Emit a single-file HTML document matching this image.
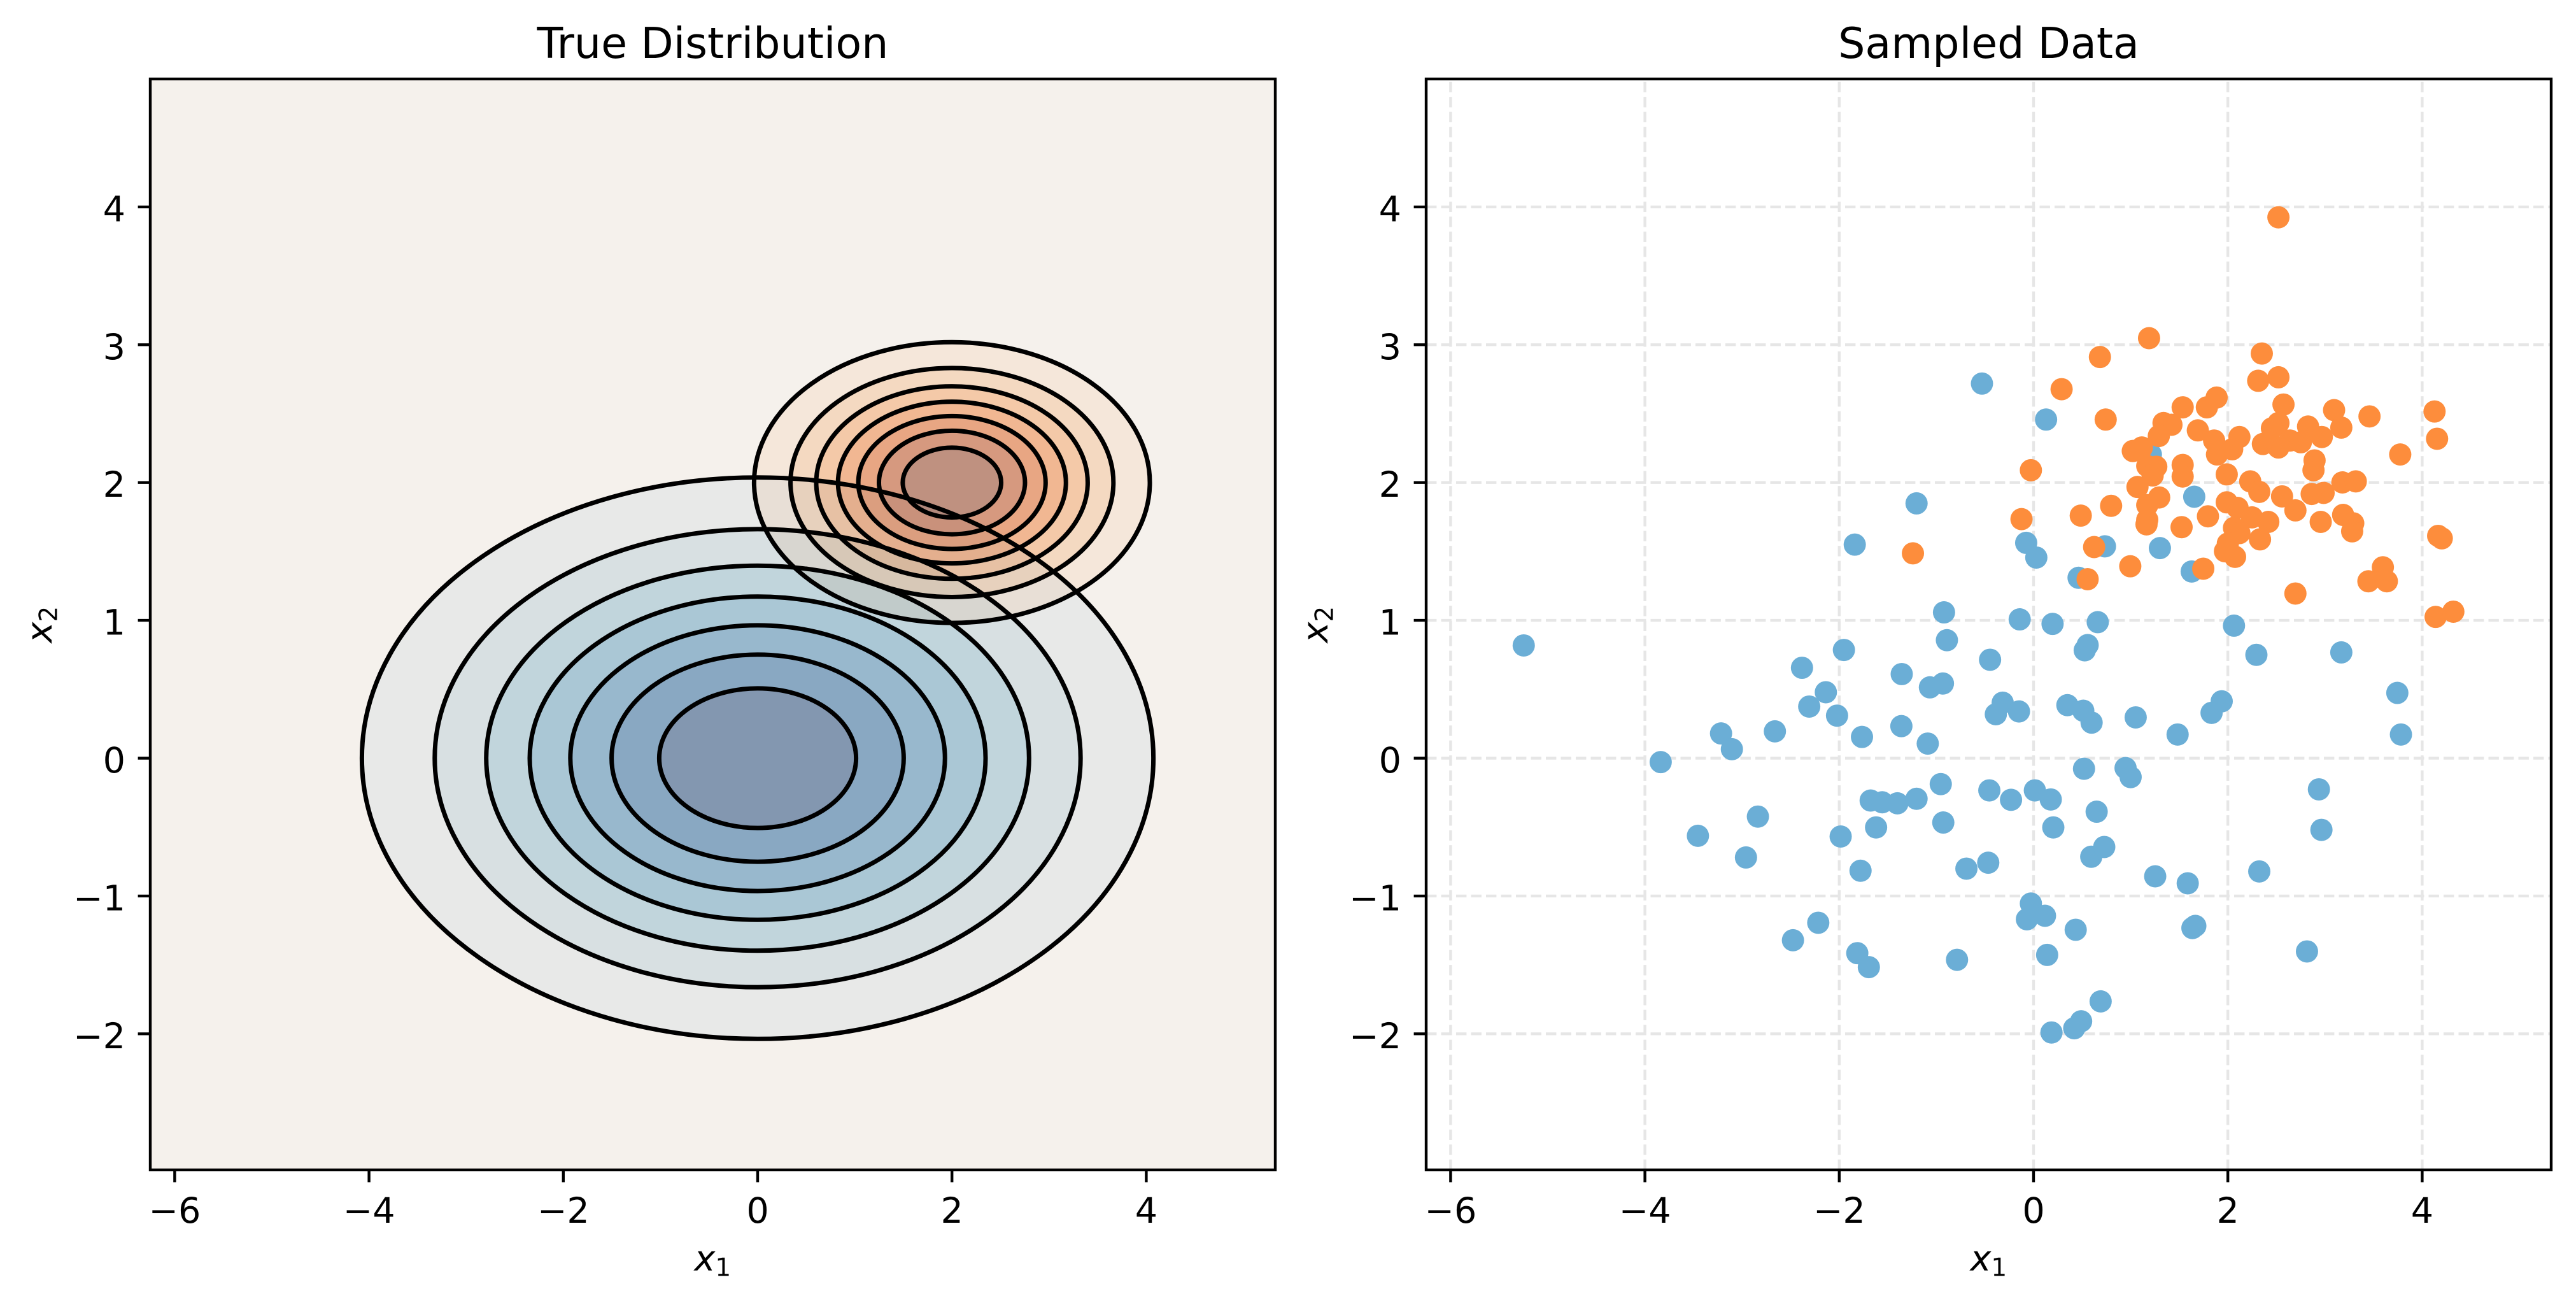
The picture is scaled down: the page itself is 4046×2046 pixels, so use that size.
<!DOCTYPE html>
<html><head><meta charset="utf-8"><style>
html,body{margin:0;padding:0;background:#fff;}
svg{display:block;}
text{font-family:"DejaVu Sans","Liberation Sans",sans-serif;fill:#000;}
</style></head><body>
<svg xmlns="http://www.w3.org/2000/svg" xmlns:xlink="http://www.w3.org/1999/xlink" width="4046" height="2046" viewBox="0 0 4046 2046">
<defs>
<clipPath id="c1"><rect x="236" y="124" width="1767" height="1713"/></clipPath>
<clipPath id="c2"><rect x="2240" y="124" width="1767" height="1713"/></clipPath>
<ellipse id="p" cx="0" cy="0" rx="30.8" ry="31.9"/>
</defs>
<rect width="4046" height="2046" fill="#fff"/>

<g clip-path="url(#c1)">
<rect x="236" y="124" width="1767" height="1713" fill="#feeedc"/>
<ellipse cx="1495.2" cy="757.7" rx="310.8" ry="220.4" fill="#fedbb8"/>
<ellipse cx="1495.2" cy="757.7" rx="253.6" ry="179.8" fill="#fdbf86"/>
<ellipse cx="1495.2" cy="757.7" rx="213.2" ry="151.1" fill="#fd9e54"/>
<ellipse cx="1495.2" cy="757.7" rx="179.0" ry="126.9" fill="#f77b28"/>
<ellipse cx="1495.2" cy="757.7" rx="147.1" ry="104.3" fill="#e5590a"/>
<ellipse cx="1495.2" cy="757.7" rx="114.7" ry="81.3" fill="#c03f02"/>
<ellipse cx="1495.2" cy="757.7" rx="77.3" ry="54.8" fill="#932f04"/>
<g fill-rule="evenodd" fill-opacity="0.5">
<path fill="#ebf3fb" d="M236 124H2003V1837H236Z M568.4 1190.5a621.6 440.8 0 1 0 1243.2 0a621.6 440.8 0 1 0 -1243.2 0Z"/>
<path fill="#d2e3f3" d="M568.4 1190.5a621.6 440.8 0 1 0 1243.2 0a621.6 440.8 0 1 0 -1243.2 0Z M682.8 1190.5a507.2 359.6 0 1 0 1014.4 0a507.2 359.6 0 1 0 -1014.4 0Z"/>
<path fill="#b2d2e8" d="M682.8 1190.5a507.2 359.6 0 1 0 1014.4 0a507.2 359.6 0 1 0 -1014.4 0Z M763.7 1190.5a426.3 302.3 0 1 0 852.6 0a426.3 302.3 0 1 0 -852.6 0Z"/>
<path fill="#84bcdb" d="M763.7 1190.5a426.3 302.3 0 1 0 852.6 0a426.3 302.3 0 1 0 -852.6 0Z M832 1190.5a358 253.8 0 1 0 716 0a358 253.8 0 1 0 -716 0Z"/>
<path fill="#56a0ce" d="M832 1190.5a358 253.8 0 1 0 716 0a358 253.8 0 1 0 -716 0Z M895.8 1190.5a294.2 208.6 0 1 0 588.4 0a294.2 208.6 0 1 0 -588.4 0Z"/>
<path fill="#3181bd" d="M895.8 1190.5a294.2 208.6 0 1 0 588.4 0a294.2 208.6 0 1 0 -588.4 0Z M960.6 1190.5a229.4 162.6 0 1 0 458.8 0a229.4 162.6 0 1 0 -458.8 0Z"/>
<path fill="#1461a8" d="M960.6 1190.5a229.4 162.6 0 1 0 458.8 0a229.4 162.6 0 1 0 -458.8 0Z M1035.4 1190.5a154.6 109.6 0 1 0 309.2 0a154.6 109.6 0 1 0 -309.2 0Z"/>
<path fill="#084083" d="M1035.4 1190.5a154.6 109.6 0 1 0 309.2 0a154.6 109.6 0 1 0 -309.2 0Z"/>
</g>
<g fill="none" stroke="#000" stroke-width="7">
<ellipse cx="1190" cy="1190.5" rx="621.6" ry="440.8"/>
<ellipse cx="1190" cy="1190.5" rx="507.2" ry="359.6"/>
<ellipse cx="1190" cy="1190.5" rx="426.3" ry="302.3"/>
<ellipse cx="1190" cy="1190.5" rx="358.0" ry="253.8"/>
<ellipse cx="1190" cy="1190.5" rx="294.2" ry="208.6"/>
<ellipse cx="1190" cy="1190.5" rx="229.4" ry="162.6"/>
<ellipse cx="1190" cy="1190.5" rx="154.6" ry="109.6"/>
<ellipse cx="1495.2" cy="757.7" rx="310.8" ry="220.4"/>
<ellipse cx="1495.2" cy="757.7" rx="253.6" ry="179.8"/>
<ellipse cx="1495.2" cy="757.7" rx="213.2" ry="151.1"/>
<ellipse cx="1495.2" cy="757.7" rx="179.0" ry="126.9"/>
<ellipse cx="1495.2" cy="757.7" rx="147.1" ry="104.3"/>
<ellipse cx="1495.2" cy="757.7" rx="114.7" ry="81.3"/>
<ellipse cx="1495.2" cy="757.7" rx="77.3" ry="54.8"/>
</g>
</g>
<rect x="236" y="124" width="1767" height="1713" fill="none" stroke="#000" stroke-width="4.4"/>
<path stroke="#000" stroke-width="4.4" fill="none" d="M274.4 1837v19.4M579.6 1837v19.4M884.8 1837v19.4M1190 1837v19.4M1495.2 1837v19.4M1800.4 1837v19.4M216.6 324.9h19.4M216.6 541.3h19.4M216.6 757.7h19.4M216.6 974.1h19.4M216.6 1190.5h19.4M216.6 1406.9h19.4M216.6 1623.3h19.4"/>
<g font-size="55.6" text-anchor="middle">
<text x="274.4" y="1920">−6</text>
<text x="579.6" y="1920">−4</text>
<text x="884.8" y="1920">−2</text>
<text x="1190" y="1920">0</text>
<text x="1495.2" y="1920">2</text>
<text x="1800.4" y="1920">4</text>
</g>
<g font-size="55.6" text-anchor="end">
<text x="197" y="347.4">4</text>
<text x="197" y="563.8">3</text>
<text x="197" y="780.2">2</text>
<text x="197" y="996.6">1</text>
<text x="197" y="1213">0</text>
<text x="197" y="1429.4">−1</text>
<text x="197" y="1645.8">−2</text>
</g>
<text x="1119.5" y="91" font-size="66.7" text-anchor="middle">True Distribution</text>
<text x="1090.5" y="1995" font-size="55.6"><tspan font-style="italic">x</tspan><tspan font-size="39" dy="8.5">1</tspan></text>
<text transform="translate(81 1009.5) rotate(-90)" font-size="55.6"><tspan font-style="italic">x</tspan><tspan font-size="39" dy="8.5">2</tspan></text>

<g clip-path="url(#c2)">
<path stroke="#e6e6e6" stroke-width="4.4" stroke-dasharray="16.4 7.1" fill="none" d="M2278.4 1837V124M2583.6 1837V124M2888.8 1837V124M3194 1837V124M3499.2 1837V124M3804.4 1837V124M2240 324.9H4007M2240 541.3H4007M2240 757.7H4007M2240 974.1H4007M2240 1190.5H4007M2240 1406.9H4007M2240 1623.3H4007"/>
<g fill="#6baed6">
<g transform="translate(2240 124) scale(0.5676 0.5485)">
<use xlink:href="#p" x="1538" y="872"/><use xlink:href="#p" x="1357" y="1215"/><use xlink:href="#p" x="1186" y="1333"/><use xlink:href="#p" x="1433" y="1527"/>
</g>
<g transform="translate(3120 124) scale(0.5676 0.5485)">
<use xlink:href="#p" x="165" y="975"/><use xlink:href="#p" x="455" y="1075"/><use xlink:href="#p" x="575" y="1196"/><use xlink:href="#p" x="328" y="1338"/>
<use xlink:href="#p" x="480" y="1343"/><use xlink:href="#p" x="110" y="1328"/><use xlink:href="#p" x="138" y="1370"/><use xlink:href="#p" x="255" y="1428"/>
<use xlink:href="#p" x="568" y="1410"/><use xlink:href="#p" x="92" y="1547"/><use xlink:href="#p" x="183" y="1560"/><use xlink:href="#p" x="308" y="1555"/>
<use xlink:href="#p" x="685" y="1565"/>
</g>
<g transform="translate(2240 980) scale(0.5676 0.5485)">
<use xlink:href="#p" x="270" y="61"/><use xlink:href="#p" x="649" y="395"/><use xlink:href="#p" x="816" y="313"/><use xlink:href="#p" x="846" y="358"/>
<use xlink:href="#p" x="965" y="307"/><use xlink:href="#p" x="752" y="606"/><use xlink:href="#p" x="918" y="551"/><use xlink:href="#p" x="885" y="668"/>
<use xlink:href="#p" x="1040" y="125"/><use xlink:href="#p" x="1106" y="195"/><use xlink:href="#p" x="1060" y="236"/><use xlink:href="#p" x="1137" y="262"/>
<use xlink:href="#p" x="1156" y="74"/><use xlink:href="#p" x="1206" y="323"/><use xlink:href="#p" x="1316" y="143"/><use xlink:href="#p" x="1315" y="292"/>
<use xlink:href="#p" x="1394" y="181"/><use xlink:href="#p" x="1430" y="170"/><use xlink:href="#p" x="1441" y="46"/><use xlink:href="#p" x="1388" y="342"/>
<use xlink:href="#p" x="1230" y="505"/><use xlink:href="#p" x="1262" y="510"/><use xlink:href="#p" x="1304" y="513"/><use xlink:href="#p" x="1357" y="500"/>
<use xlink:href="#p" x="1424" y="458"/><use xlink:href="#p" x="1245" y="582"/><use xlink:href="#p" x="1147" y="608"/><use xlink:href="#p" x="1431" y="568"/>
<use xlink:href="#p" x="1202" y="706"/><use xlink:href="#p" x="1495" y="700"/><use xlink:href="#p" x="1085" y="855"/><use xlink:href="#p" x="1015" y="905"/>
<use xlink:href="#p" x="1193" y="942"/><use xlink:href="#p" x="1225" y="982"/><use xlink:href="#p" x="1469" y="961"/>
</g>
<g transform="translate(3120 980) scale(0.5676 0.5485)">
<use xlink:href="#p" x="10" y="102"/><use xlink:href="#p" x="272" y="75"/><use xlink:href="#p" x="280" y="60"/><use xlink:href="#p" x="747" y="88"/>
<use xlink:href="#p" x="982" y="81"/><use xlink:href="#p" x="1137" y="197"/><use xlink:href="#p" x="1147" y="316"/><use xlink:href="#p" x="26" y="258"/>
<use xlink:href="#p" x="45" y="225"/><use xlink:href="#p" x="90" y="250"/><use xlink:href="#p" x="224" y="232"/><use xlink:href="#p" x="268" y="248"/>
<use xlink:href="#p" x="291" y="282"/><use xlink:href="#p" x="413" y="267"/><use xlink:href="#p" x="529" y="316"/><use xlink:href="#p" x="623" y="254"/>
<use xlink:href="#p" x="651" y="221"/><use xlink:href="#p" x="270" y="414"/><use xlink:href="#p" x="385" y="412"/><use xlink:href="#p" x="399" y="438"/>
<use xlink:href="#p" x="8" y="476"/><use xlink:href="#p" x="68" y="503"/><use xlink:href="#p" x="134" y="476"/><use xlink:href="#p" x="178" y="502"/>
<use xlink:href="#p" x="185" y="582"/><use xlink:href="#p" x="305" y="537"/><use xlink:href="#p" x="5" y="683"/><use xlink:href="#p" x="290" y="666"/>
<use xlink:href="#p" x="326" y="638"/><use xlink:href="#p" x="467" y="722"/><use xlink:href="#p" x="557" y="742"/><use xlink:href="#p" x="755" y="708"/>
<use xlink:href="#p" x="920" y="473"/><use xlink:href="#p" x="927" y="589"/><use xlink:href="#p" x="123" y="800"/><use xlink:href="#p" x="112" y="845"/>
<use xlink:href="#p" x="162" y="835"/><use xlink:href="#p" x="247" y="875"/><use xlink:href="#p" x="168" y="947"/><use xlink:href="#p" x="570" y="870"/>
<use xlink:href="#p" x="578" y="864"/><use xlink:href="#p" x="887" y="937"/><use xlink:href="#p" x="316" y="1080"/><use xlink:href="#p" x="262" y="1137"/>
<use xlink:href="#p" x="243" y="1157"/><use xlink:href="#p" x="180" y="1169"/>
</g>
</g>
<g fill="#fd8d3c">
<g transform="translate(2240 124) scale(0.5676 0.5485)">
<use xlink:href="#p" x="1347" y="1358"/>
</g>
<g transform="translate(3120 124) scale(0.5676 0.5485)">
<use xlink:href="#p" x="808" y="396"/><use xlink:href="#p" x="450" y="742"/><use xlink:href="#p" x="314" y="796"/><use xlink:href="#p" x="208" y="888"/>
<use xlink:href="#p" x="762" y="786"/><use xlink:href="#p" x="752" y="864"/><use xlink:href="#p" x="808" y="854"/><use xlink:href="#p" x="822" y="932"/>
<use xlink:href="#p" x="330" y="975"/><use xlink:href="#p" x="543" y="940"/><use xlink:href="#p" x="610" y="940"/><use xlink:href="#p" x="637" y="912"/>
<use xlink:href="#p" x="490" y="985"/><use xlink:href="#p" x="512" y="990"/><use xlink:href="#p" x="477" y="1022"/><use xlink:href="#p" x="585" y="1006"/>
<use xlink:href="#p" x="630" y="1035"/><use xlink:href="#p" x="700" y="1025"/><use xlink:href="#p" x="680" y="1060"/><use xlink:href="#p" x="638" y="1075"/>
<use xlink:href="#p" x="405" y="1065"/><use xlink:href="#p" x="430" y="1055"/><use xlink:href="#p" x="445" y="1108"/><use xlink:href="#p" x="470" y="1110"/>
<use xlink:href="#p" x="460" y="1135"/><use xlink:href="#p" x="543" y="1105"/><use xlink:href="#p" x="543" y="1138"/><use xlink:href="#p" x="665" y="1132"/>
<use xlink:href="#p" x="418" y="1168"/><use xlink:href="#p" x="445" y="1220"/><use xlink:href="#p" x="478" y="1198"/><use xlink:href="#p" x="443" y="1275"/>
<use xlink:href="#p" x="445" y="1262"/><use xlink:href="#p" x="345" y="1222"/><use xlink:href="#p" x="261" y="1250"/><use xlink:href="#p" x="97" y="1260"/>
<use xlink:href="#p" x="123" y="1120"/><use xlink:href="#p" x="298" y="1340"/><use xlink:href="#p" x="398" y="1395"/><use xlink:href="#p" x="280" y="1432"/>
<use xlink:href="#p" x="600" y="1402"/><use xlink:href="#p" x="540" y="1283"/><use xlink:href="#p" x="613" y="1252"/><use xlink:href="#p" x="665" y="1212"/>
<use xlink:href="#p" x="695" y="1228"/><use xlink:href="#p" x="730" y="1152"/><use xlink:href="#p" x="755" y="1182"/><use xlink:href="#p" x="735" y="1255"/>
<use xlink:href="#p" x="685" y="1285"/><use xlink:href="#p" x="700" y="1300"/><use xlink:href="#p" x="780" y="1268"/><use xlink:href="#p" x="757" y="1318"/>
<use xlink:href="#p" x="668" y="1330"/><use xlink:href="#p" x="660" y="1352"/><use xlink:href="#p" x="688" y="1368"/><use xlink:href="#p" x="765" y="1045"/>
<use xlink:href="#p" x="808" y="1055"/><use xlink:href="#p" x="808" y="985"/><use xlink:href="#p" x="790" y="1000"/><use xlink:href="#p" x="840" y="1035"/>
<use xlink:href="#p" x="870" y="1040"/><use xlink:href="#p" x="890" y="995"/><use xlink:href="#p" x="928" y="1025"/><use xlink:href="#p" x="908" y="1092"/>
<use xlink:href="#p" x="905" y="1120"/><use xlink:href="#p" x="818" y="1195"/><use xlink:href="#p" x="855" y="1235"/><use xlink:href="#p" x="900" y="1188"/>
<use xlink:href="#p" x="933" y="1185"/><use xlink:href="#p" x="985" y="1155"/><use xlink:href="#p" x="1022" y="1152"/><use xlink:href="#p" x="962" y="948"/>
<use xlink:href="#p" x="982" y="998"/><use xlink:href="#p" x="1060" y="966"/><use xlink:href="#p" x="1145" y="1075"/><use xlink:href="#p" x="1240" y="952"/>
<use xlink:href="#p" x="1247" y="1030"/><use xlink:href="#p" x="987" y="1248"/><use xlink:href="#p" x="1015" y="1272"/><use xlink:href="#p" x="1012" y="1295"/>
<use xlink:href="#p" x="925" y="1268"/><use xlink:href="#p" x="1250" y="1308"/><use xlink:href="#p" x="1260" y="1315"/><use xlink:href="#p" x="1097" y="1398"/>
<use xlink:href="#p" x="1057" y="1438"/><use xlink:href="#p" x="1108" y="1438"/><use xlink:href="#p" x="855" y="1473"/><use xlink:href="#p" x="1243" y="1540"/>
<use xlink:href="#p" x="1292" y="1525"/>
</g>
</g>
</g>
<rect x="2240" y="124" width="1767" height="1713" fill="none" stroke="#000" stroke-width="4.4"/>
<path stroke="#000" stroke-width="4.4" fill="none" d="M2278.4 1837v19.4M2583.6 1837v19.4M2888.8 1837v19.4M3194 1837v19.4M3499.2 1837v19.4M3804.4 1837v19.4M2220.6 324.9h19.4M2220.6 541.3h19.4M2220.6 757.7h19.4M2220.6 974.1h19.4M2220.6 1190.5h19.4M2220.6 1406.9h19.4M2220.6 1623.3h19.4"/>
<g font-size="55.6" text-anchor="middle">
<text x="2278.4" y="1920">−6</text>
<text x="2583.6" y="1920">−4</text>
<text x="2888.8" y="1920">−2</text>
<text x="3194" y="1920">0</text>
<text x="3499.2" y="1920">2</text>
<text x="3804.4" y="1920">4</text>
</g>
<g font-size="55.6" text-anchor="end">
<text x="2201" y="347.4">4</text>
<text x="2201" y="563.8">3</text>
<text x="2201" y="780.2">2</text>
<text x="2201" y="996.6">1</text>
<text x="2201" y="1213">0</text>
<text x="2201" y="1429.4">−1</text>
<text x="2201" y="1645.8">−2</text>
</g>
<text x="3123.5" y="91" font-size="66.7" text-anchor="middle">Sampled Data</text>
<text x="3094.5" y="1995" font-size="55.6"><tspan font-style="italic">x</tspan><tspan font-size="39" dy="8.5">1</tspan></text>
<text transform="translate(2085 1009.5) rotate(-90)" font-size="55.6"><tspan font-style="italic">x</tspan><tspan font-size="39" dy="8.5">2</tspan></text>
</svg>
</body></html>
